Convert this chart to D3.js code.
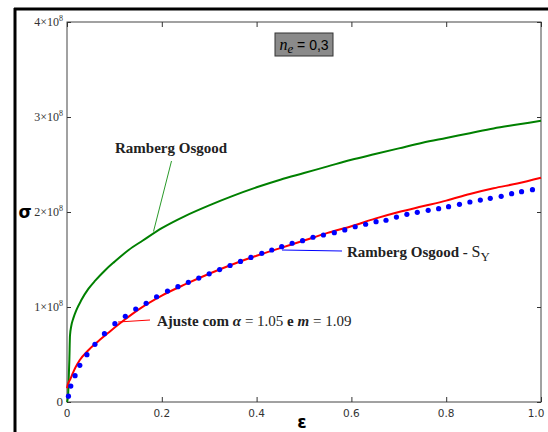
<!DOCTYPE html>
<html><head><meta charset="utf-8">
<script src="https://cdn.jsdelivr.net/npm/d3@7"></script>
<style>body{margin:0;background:#fff}svg{display:block}</style>
</head><body>
<svg id="c" width="548" height="432"></svg>
<script>
// ---- data (sigma in units of 1e8) ----
const xTicks = [0, 0.2, 0.4, 0.6, 0.8, 1.0];
const xTickLabels = ["0", "0.2", "0.4", "0.6", "0.8", "1.0"];
const yTicks = [0, 1, 2, 3, 4];
const yTickLabels = ["0", "1×10", "2×10", "3×10", "4×10"];

const greenEps = [0,0.002,0.004,0.005,0.0063,0.009,0.0133,0.02,0.03,0.045,0.06,0.08,0.1,0.13,0.16,0.2,0.25,0.3,0.35,0.4,0.45,0.5,0.55,0.6,0.65,0.7,0.75,0.8,0.85,0.9,0.95,1.0];
const greenSig = [0,0.05,0.30,0.45,0.70,0.80,0.88,0.97,1.07,1.19,1.28,1.385,1.475,1.60,1.70,1.83,1.96,2.07,2.17,2.26,2.34,2.41,2.48,2.55,2.61,2.67,2.73,2.78,2.83,2.88,2.92,2.96];

const redEps = [0,0.002,0.006,0.012,0.017,0.027,0.045,0.066,0.09,0.12,0.15,0.2,0.25,0.3,0.35,0.4,0.45,0.5,0.55,0.6,0.65,0.7,0.75,0.8,0.85,0.9,0.95,1.0];
const redSig = [0.145,0.19,0.23,0.30,0.355,0.442,0.545,0.64,0.74,0.86,0.97,1.12,1.24,1.35,1.45,1.54,1.62,1.70,1.78,1.85,1.93,2.00,2.06,2.12,2.19,2.25,2.30,2.36];

const dotEps = [0.003,0.008,0.017,0.027,0.042,0.059,0.079,0.101,0.123,0.145,0.167,0.189,0.212,0.234,0.256,0.278,0.300,0.322,0.344,0.366,0.388,0.411,0.432,0.453,0.475,0.497,0.519,0.541,0.564,0.586,0.608,0.630,0.652,0.673,0.695,0.717,0.739,0.762,0.784,0.805,0.828,0.850,0.872,0.893,0.916,0.938,0.959,0.982];
const dotSig = [0.061,0.168,0.277,0.386,0.498,0.607,0.719,0.824,0.902,0.979,1.039,1.108,1.168,1.214,1.260,1.305,1.349,1.394,1.437,1.480,1.522,1.565,1.600,1.635,1.671,1.698,1.734,1.758,1.782,1.811,1.845,1.871,1.898,1.913,1.947,1.976,1.997,2.018,2.035,2.056,2.081,2.105,2.126,2.144,2.165,2.193,2.214,2.235];

const svg = d3.select("#c");
const L = 67, R = 541, T = 22, B = 402;
const x = d3.scaleLinear().domain([0, 1]).range([L, R]);
const y = d3.scaleLinear().domain([0, 4]).range([B, T]);

// outer frame (top & left thick lines)
svg.append("line").attr("x1",14).attr("x2",548).attr("y1",9).attr("y2",9).attr("stroke","#000").attr("stroke-width",3);
svg.append("line").attr("x1",15).attr("x2",15).attr("y1",8).attr("y2",432).attr("stroke","#000").attr("stroke-width",3);

// plot border
svg.append("rect").attr("x",L).attr("y",T).attr("width",R-L).attr("height",B-T)
  .attr("fill","none").attr("stroke","#444").attr("stroke-width",1);

// ticks (inward) with axes
const axB = d3.axisBottom(x).tickValues(xTicks).tickSize(-5).tickFormat("");
const axT = d3.axisTop(x).tickValues(xTicks).tickSize(-5).tickFormat("");
const axL = d3.axisLeft(y).tickValues(yTicks).tickSize(-4).tickFormat("");
const axR = d3.axisRight(y).tickValues(yTicks).tickSize(-4).tickFormat("");
[[axB,`translate(0,${B})`],[axT,`translate(0,${T})`],[axL,`translate(${L},0)`],[axR,`translate(${R},0)`]].forEach(([a,t])=>{
  const g = svg.append("g").attr("transform",t).call(a);
  g.select(".domain").remove();
  g.selectAll("line").attr("stroke","#333");
});

// x tick labels
svg.append("g").selectAll("text").data(xTicks).join("text")
  .attr("x", d => Math.min(x(d), 536)).attr("y", B + 15)
  .attr("text-anchor","middle").attr("font-family","'DejaVu Sans', sans-serif")
  .attr("font-size", 10.5).attr("fill","#333")
  .text((d,i) => xTickLabels[i]);

// y tick labels
const yl = svg.append("g").selectAll("text").data(yTicks).join("text")
  .attr("x", 63).attr("y", d => y(d) + 4)
  .attr("text-anchor","end").attr("font-family","'Liberation Serif', serif")
  .attr("font-size", 12).attr("fill","#333");
yl.each(function(d,i){
  const t = d3.select(this);
  if (d === 0) { t.attr("font-size",13).text(yTickLabels[i]); return; }
  t.append("tspan").text(yTickLabels[i]);
  t.append("tspan").attr("dy",-5).attr("font-size",8).text("8");
});

// axis titles
svg.append("text").attr("x",25).attr("y",218).attr("text-anchor","middle")
  .attr("font-family","'DejaVu Sans', sans-serif").attr("font-weight","bold").attr("font-size",17).text("σ");
svg.append("text").attr("x",302).attr("y",428).attr("text-anchor","middle")
  .attr("font-family","'DejaVu Sans', sans-serif").attr("font-weight","bold").attr("font-size",17).text("ε");

// curves
const line = d3.line().x(d => x(d[0])).y(d => y(d[1])).curve(d3.curveMonotoneX);
svg.append("path").datum(greenEps.map((e,i)=>[e,greenSig[i]]))
  .attr("d", line).attr("fill","none").attr("stroke","#008000").attr("stroke-width",2);
svg.append("path").datum(redEps.map((e,i)=>[e,redSig[i]]))
  .attr("d", line).attr("fill","none").attr("stroke","#ff0000").attr("stroke-width",2);
svg.append("g").selectAll("circle").data(dotEps.map((e,i)=>[e,dotSig[i]])).join("circle")
  .attr("cx", d => x(d[0])).attr("cy", d => y(d[1])).attr("r", 2.6).attr("fill","#0000ff");

// annotations
const serif = "'Liberation Serif', 'Times New Roman', serif";
svg.append("line").attr("x1",171.5).attr("y1",161).attr("x2",153.5).attr("y2",231.5)
  .attr("stroke","#2a9a2a").attr("stroke-width",1);
svg.append("text").attr("x",115).attr("y",153).attr("font-family",serif).attr("font-weight","bold")
  .attr("font-size",15).attr("fill","#222").text("Ramberg Osgood");

svg.append("line").attr("x1",282).attr("y1",250).attr("x2",342).attr("y2",251)
  .attr("stroke","#0000ff").attr("stroke-width",1);
const t2 = svg.append("text").attr("x",347).attr("y",257).attr("font-family",serif)
  .attr("font-size",15).attr("fill","#222");
t2.append("tspan").attr("font-weight","bold").text("Ramberg Osgood - ");
t2.append("tspan").attr("font-size",16).text("S");
t2.append("tspan").attr("font-size",13).attr("dy",4).text("Y");

svg.append("line").attr("x1",118).attr("y1",322).attr("x2",150).attr("y2",320)
  .attr("stroke","#ff0000").attr("stroke-width",1);
const t3 = svg.append("text").attr("x",157).attr("y",326).attr("font-family",serif)
  .attr("font-size",15).attr("fill","#222");
t3.append("tspan").attr("font-weight","bold").text("Ajuste com ");
t3.append("tspan").attr("font-weight","bold").attr("font-style","italic").text("α");
t3.append("tspan").text(" = 1.05 ");
t3.append("tspan").attr("font-weight","bold").text("e ");
t3.append("tspan").attr("font-weight","bold").attr("font-style","italic").text("m");
t3.append("tspan").text(" = 1.09");

// n_e box
svg.append("rect").attr("x",275).attr("y",33).attr("width",58).attr("height",23)
  .attr("fill","#8a8a8a").attr("stroke","#333").attr("stroke-width",1);
const t4 = svg.append("text").attr("x",304).attr("y",50).attr("text-anchor","middle")
  .attr("font-size",14).attr("fill","#000");
t4.append("tspan").attr("font-family",serif).attr("font-style","italic").attr("font-size",16).text("n");
t4.append("tspan").attr("font-family",serif).attr("font-style","italic").attr("font-size",13).attr("dy",3).text("e");
t4.append("tspan").attr("font-family","'Liberation Sans', Arial, sans-serif").attr("dy",-3).text(" = 0,3");
</script>
</body></html>
